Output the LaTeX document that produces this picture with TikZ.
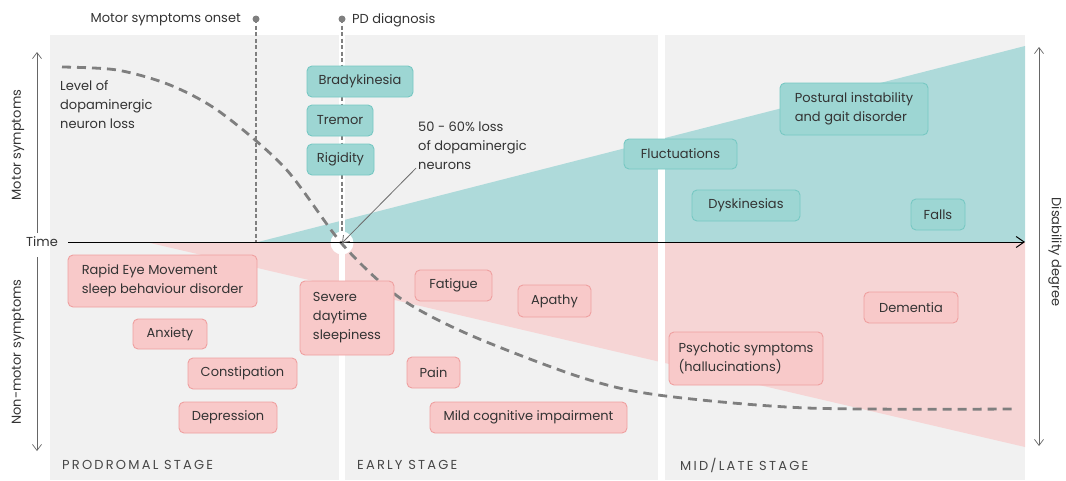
\documentclass[tikz,border=0pt]{standalone}
\usepackage{fontspec}
\setmainfont{Poppins}
\newfontfamily\stagefont[LetterSpace=17]{Poppins}
\usepackage{tikz}
\usetikzlibrary{arrows.meta,positioning}
\definecolor{panelgray}{HTML}{F1F1F1}
\definecolor{tealarea}{HTML}{AEDADA}
\definecolor{tealbox}{HTML}{9DD6D3}
\definecolor{tealline}{HTML}{77C8C3}
\definecolor{pinkarea}{HTML}{F6D5D5}
\definecolor{pinkbox}{HTML}{F8C9C9}
\definecolor{pinkline}{HTML}{EFA0A0}
\definecolor{txt}{HTML}{333333}
\definecolor{curvegray}{HTML}{7F7F7F}
\tikzset{
  symp/.style={draw, rounded corners=5pt, line width=0.9pt, inner sep=0pt,
    text=txt, font=\fontsize{13}{19}\selectfont, align=left},
  motor/.style={symp, fill=tealbox, draw=tealline},
  nonmotor/.style={symp, fill=pinkbox, draw=pinkline},
  lbl/.style={text=txt, font=\fontsize{13}{19}\selectfont, inner sep=0pt, align=left},
  stage/.style={text=txt!90, font=\stagefont\fontsize{13}{15}\selectfont, inner sep=0pt, anchor=west},
  marker/.style={curvegray, line width=1.2pt, dash pattern=on 4pt off 2.5pt},
  dimarrow/.style={gray!80!black, line width=0.7pt, {Straight Barb[length=6pt,width=9pt]}-{Straight Barb[length=6pt,width=9pt]}}
}
\begin{document}
\begin{tikzpicture}[x=1pt,y=-1pt,>={Straight Barb[length=8pt,width=11pt]}]
\useasboundingbox (0,0) rectangle (1066,480);

\fill[panelgray] (50,35) rectangle (1025,480);
\fill[tealarea] (258,242) -- (1025,46) -- (1025,242) -- cycle;
\fill[pinkarea] (146,242) -- (1025,447) -- (1025,242) -- cycle;
\fill[white] (339,35) rectangle (345,480);
\fill[white] (658,35) rectangle (665,480);

\node[stage]	(prod)	at (62,465)	{PRODROMAL STAGE};
\node[stage]	(early)	at (357,465)	{EARLY STAGE};
\node[stage]	(late)	at (680,465)	{MID/LATE STAGE};

\fill[curvegray] (256,19) circle (3.5pt) coordinate (onset);
\fill[curvegray] (342,19) circle (3.5pt) coordinate (diag);
\coordinate (onsetend) at (256,242);
\coordinate (diagend) at (342,232);
\draw[marker] (onset) -- (onsetend);
\draw[marker] (diag) -- (diagend);
\node[lbl, anchor=east]	(onsetlbl)	at (241,20)	{Motor symptoms onset};
\node[lbl, anchor=west]	(diaglbl)	at (352,20)	{PD diagnosis};

\fill[white] (342,243) circle (11.5pt) coordinate (cross);

\draw[curvegray, line width=2.8pt, dash pattern=on 9pt off 6pt]
  plot[smooth, tension=0.5] coordinates {(62,67) (117,70) (170,85) (220,112) (285,168)
  (343,245) (400,298) (470,335) (580,377) (658,395) (807,408) (1013,409)};

\node[lbl, anchor=west]	(time)	at (26,242)	{Time};
\coordinate (axisend) at (1025,242);
\draw[->, line width=1pt] (time.east) ++(10,0) -- (axisend);

\coordinate (mtop) at (37,52);
\coordinate (mbot) at (37,233);
\coordinate (ntop) at (37,257);
\coordinate (nbot) at (37,451);
\draw[gray!80!black, line width=0.7pt, -{Straight Barb[length=6pt,width=9pt]}] (mbot) -- (mtop);
\draw[gray!80!black, line width=0.7pt, -{Straight Barb[length=6pt,width=9pt]}] (ntop) -- (nbot);
\node[lbl, rotate=90]	(motorax)	at (18,145)	{Motor symptoms};
\node[lbl, rotate=90]	(nonmotorax)	at (18,352)	{Non-motor symptoms};

\coordinate (dtop) at (1039,47);
\coordinate (dbot) at (1039,446);
\draw[dimarrow] (dtop) -- (dbot);
\node[lbl, rotate=-90]	(disab)	at (1055,252)	{Disability degree};

\node[lbl, anchor=north west]	(level)	at (60,80)	{Level of\\dopaminergic\\neuron loss};
\node[lbl, anchor=north west]	(loss)	at (418,122)	{50 - 60\% loss\\of dopaminergic\\neurons};
\draw[->, gray!85!black, line width=0.8pt, >={Straight Barb[length=6pt,width=9pt]}] (loss.south west) ++(-2,-2) -- (cross.north east);

\node[motor, minimum width=106pt, minimum height=31pt]	(brady)	at (360,81.5)	{Bradykinesia};
\node[motor, minimum width=66pt, minimum height=31pt]	(tremor)	at (340,120.5)	{Tremor};
\node[motor, minimum width=67pt, minimum height=31pt]	(rigid)	at (340.5,159.5)	{Rigidity};
\node[motor, minimum width=113pt, minimum height=30pt]	(fluct)	at (680.5,154)	{Fluctuations};
\node[motor, minimum width=148pt, minimum height=52pt]	(postural)	at (854,109)	{Postural instability\\and gait disorder};
\node[motor, minimum width=108pt, minimum height=31pt]	(dysk)	at (746,205.5)	{Dyskinesias};
\node[motor, minimum width=54pt, minimum height=31pt]	(falls)	at (938,214.5)	{Falls};

\node[nonmotor, minimum width=189pt, minimum height=52pt]	(rem)	at (162.5,281)	{Rapid Eye Movement\\sleep behaviour disorder};
\node[nonmotor, minimum width=74pt, minimum height=30pt]	(anx)	at (170,334)	{Anxiety};
\node[nonmotor, minimum width=109pt, minimum height=31pt]	(const)	at (242.5,373.5)	{Constipation};
\node[nonmotor, minimum width=98pt, minimum height=31pt]	(depr)	at (228,417.5)	{Depression};
\node[nonmotor, minimum width=94pt, minimum height=74pt]	(sleepy)	at (347,318)	{Severe\\daytime\\sleepiness};
\node[nonmotor, minimum width=77pt, minimum height=31pt]	(fatig)	at (453.5,285.5)	{Fatigue};
\node[nonmotor, minimum width=73pt, minimum height=32pt]	(apathy)	at (554.5,301)	{Apathy};
\node[nonmotor, minimum width=53pt, minimum height=31pt]	(pain)	at (433.5,372.5)	{Pain};
\node[nonmotor, minimum width=197pt, minimum height=31pt]	(mci)	at (528.5,417.5)	{Mild cognitive impairment};
\node[nonmotor, minimum width=94pt, minimum height=31pt]	(dement)	at (911,307.5)	{Dementia};
\node[nonmotor, minimum width=154pt, minimum height=53pt]	(psych)	at (746,358.5)	{Psychotic symptoms\\(hallucinations)};
\end{tikzpicture}
\end{document}
